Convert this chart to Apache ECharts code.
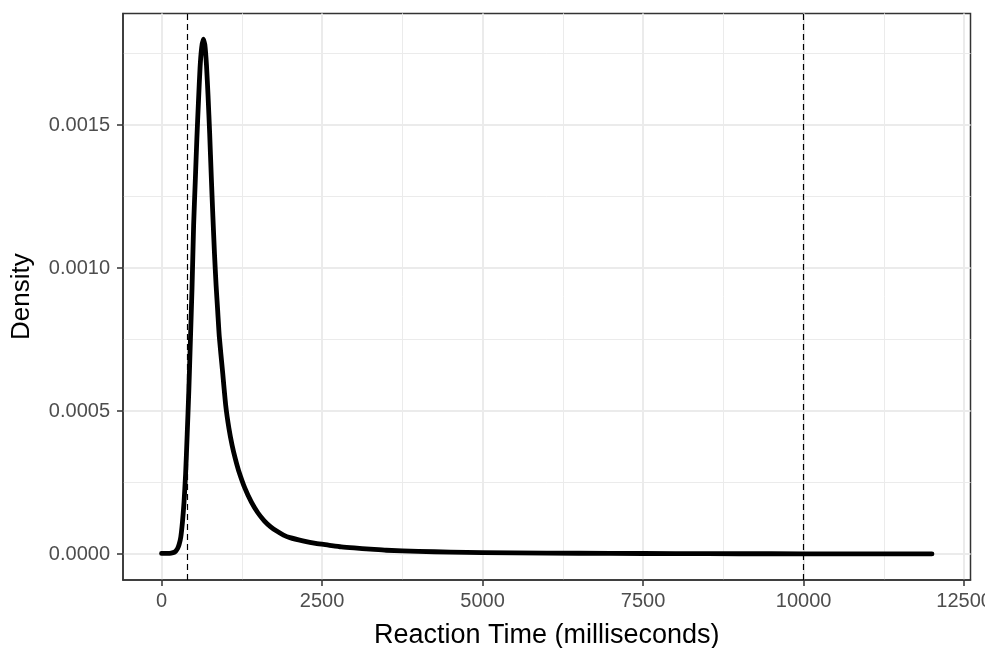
<!DOCTYPE html>
<html>
<head>
<meta charset="utf-8">
<script src="https://cdn.jsdelivr.net/npm/echarts@6/dist/echarts.min.js"></script>
<style>
  html, body { margin: 0; padding: 0; background: #ffffff; overflow: hidden; }
  #chart { display: block; width: 985px; height: 648px; }
</style>
</head>
<body>
<div id="chart"></div>
<script>
// reaction time (ms) and estimated density
const reactionTimes = [
  0, 100, 150, 200, 225, 250, 275, 300, 325, 350, 375, 400, 425, 450, 475,
  500, 525, 550, 575, 600, 625, 650, 675, 700, 725, 750, 775, 800, 825, 850,
  875, 900, 950, 1000, 1050, 1100, 1150, 1200, 1300, 1400, 1500, 1600, 1700,
  1800, 1900, 2000, 2200, 2400, 2600, 2800, 3000, 3250, 3500, 4000, 4500,
  5000, 6000, 7000, 8000, 9000, 10000, 11000, 12000
];
const densities = [
  0.000003, 0.000003, 0.000004, 0.000007, 0.000012, 0.00002, 0.000035, 0.00006,
  0.00011, 0.00018, 0.00028, 0.00042, 0.00057, 0.00075, 0.00093,
  0.00115, 0.0013, 0.00145, 0.00158, 0.0017, 0.00177, 0.0018, 0.00178, 0.00171,
  0.0016, 0.00147, 0.00132, 0.00118, 0.00105, 0.00094,
  0.00085, 0.00076, 0.00064, 0.00052, 0.00044, 0.00038, 0.000333, 0.000293,
  0.00023, 0.000182, 0.000145, 0.000117, 0.000096,
  0.00008, 0.000067, 0.000058, 0.000047, 0.000038, 0.000032, 0.000026,
  0.000022, 0.000018, 0.000014, 0.00001, 0.0000075,
  0.0000057, 0.000004, 0.000003, 0.0000022, 0.0000018, 0.0000015, 0.0000012,
  0.000001
];

// cut-off lines
const cutoffs = [400, 10000];

// tick values
const xMajorTicks = [0, 2500, 5000, 7500, 10000, 12500];
const xMinorTicks = [1250, 3750, 6250, 8750, 11250];
const yMajorTicks = [0, 0.0005, 0.001, 0.0015];
const yMinorTicks = [0.00025, 0.00075, 0.00125, 0.00175];

const FONT = "Liberation Sans, Arial, Helvetica, sans-serif";
const GRID_COLOR = "#ebebeb";
const AXIS_COLOR = "#333333";
const X_RANGE = [-600, 12600];
const Y_RANGE = [-0.00009, 0.00189];

function minorAxis(range, ticks) {
  return {
    type: "value",
    min: range[0],
    max: range[1],
    axisLine: { show: false },
    axisTick: { show: false, customValues: ticks },
    axisLabel: { show: false, customValues: ticks },
    splitLine: { show: true, lineStyle: { color: GRID_COLOR, width: 1 } }
  };
}

const chart = echarts.init(document.getElementById("chart"), null, { renderer: "canvas" });

chart.setOption({
  animation: false,
  backgroundColor: "#ffffff",
  textStyle: { fontFamily: FONT },
  grid: {
    left: 123,
    right: 14.5,
    top: 13.4,
    bottom: 68,
    containLabel: false,
    outerBoundsMode: "none",
    show: true,
    borderColor: AXIS_COLOR,
    borderWidth: 1.5,
    backgroundColor: "#ffffff"
  },
  xAxis: [
    {
      type: "value",
      min: X_RANGE[0],
      max: X_RANGE[1],
      name: "Reaction Time (milliseconds)",
      nameLocation: "middle",
      nameGap: 42,
      nameTextStyle: { color: "#000000", fontSize: 27, fontFamily: FONT },
      axisLine: { show: true, onZero: false, lineStyle: { color: AXIS_COLOR, width: 1.5 } },
      axisTick: { show: true, length: 6, customValues: xMajorTicks, lineStyle: { color: AXIS_COLOR, width: 1.5 } },
      axisLabel: {
        customValues: xMajorTicks,
        margin: 11,
        fontSize: 20,
        color: "#4d4d4d",
        fontFamily: FONT,
        formatter: (v) => String(Math.round(v))
      },
      splitLine: { show: true, lineStyle: { color: GRID_COLOR, width: 2 } }
    },
    minorAxis(X_RANGE, xMinorTicks)
  ],
  yAxis: [
    {
      type: "value",
      min: Y_RANGE[0],
      max: Y_RANGE[1],
      name: "Density",
      nameLocation: "middle",
      nameGap: 88,
      nameTextStyle: { color: "#000000", fontSize: 26, fontFamily: FONT },
      axisLine: { show: true, onZero: false, lineStyle: { color: AXIS_COLOR, width: 1.5 } },
      axisTick: { show: true, length: 6, customValues: yMajorTicks, lineStyle: { color: AXIS_COLOR, width: 1.5 } },
      axisLabel: {
        customValues: yMajorTicks,
        margin: 13,
        fontSize: 20,
        color: "#4d4d4d",
        fontFamily: FONT,
        formatter: (v) => v.toFixed(4)
      },
      splitLine: { show: true, lineStyle: { color: GRID_COLOR, width: 2 } }
    },
    minorAxis(Y_RANGE, yMinorTicks)
  ],
  series: [
    {
      type: "line",
      xAxisIndex: 0,
      yAxisIndex: 0,
      data: reactionTimes.map((t, i) => [t, densities[i]]),
      showSymbol: false,
      smooth: 0.2,
      lineStyle: { color: "#000000", width: 4.8, cap: "round", join: "round" },
      markLine: {
        silent: true,
        symbol: ["none", "none"],
        label: { show: false },
        lineStyle: { color: "#000000", width: 1.2, type: [6, 4] },
        data: cutoffs.map((x) => ({ xAxis: x }))
      }
    }
  ]
});
</script>
</body>
</html>
